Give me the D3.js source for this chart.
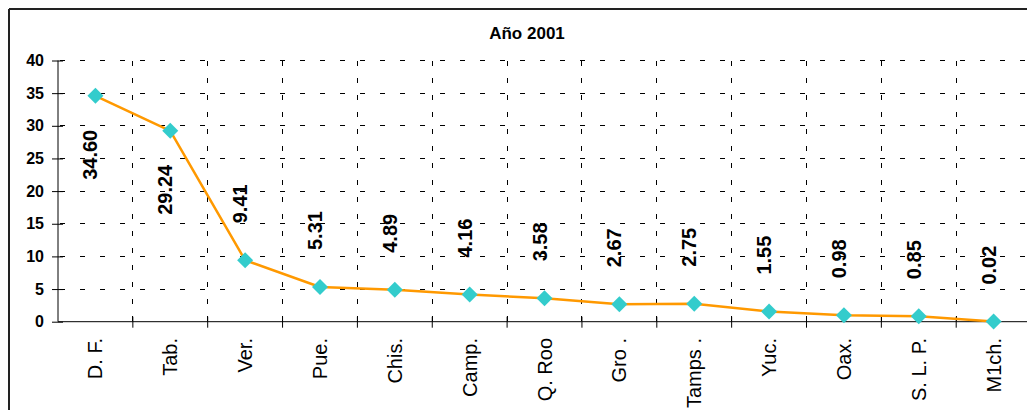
<!DOCTYPE html>
<html>
<head>
<meta charset="utf-8">
<script src="https://cdn.jsdelivr.net/npm/d3@7"></script>
<style>
  html, body { margin: 0; padding: 0; background: #fff; }
  svg { display: block; font-family: "Liberation Sans", Arial, sans-serif; }
</style>
</head>
<body>
<svg id="chart" width="1027" height="410"></svg>
<script>
// ---- data ----
const categories = ["D. F.", "Tab.", "Ver.", "Pue.", "Chis.", "Camp.", "Q. Roo", "Gro .", "Tamps .", "Yuc.", "Oax.", "S. L. P.", "M1ch."];
const values = [34.60, 29.24, 9.41, 5.31, 4.89, 4.16, 3.58, 2.67, 2.75, 1.55, 0.98, 0.85, 0.02];
const valueLabels = ["34.60", "29.24", "9.41", "5.31", "4.89", "4.16", "3.58", "2.67", "2.75", "1.55", "0.98", "0.85", "0.02"];
const yTicks = [0, 5, 10, 15, 20, 25, 30, 35, 40];
const title = "Año 2001";

// ---- layout ----
const W = 1027, H = 410;
const plot = { left: 58, top: 60.5, bottom: 321.7, bandW: 74.85 };
const svg = d3.select("#chart");

const x = d3.scaleBand().domain(categories)
  .range([plot.left, plot.left + plot.bandW * categories.length]).padding(0);
const y = d3.scaleLinear().domain([0, 40]).range([plot.bottom, plot.top]);
const cx = c => x(c) + x.bandwidth() / 2;

// frame
svg.append("line").attr("x1", 9).attr("x2", W).attr("y1", 9).attr("y2", 9)
  .attr("stroke", "#222").attr("stroke-width", 2);
svg.append("line").attr("x1", 9).attr("x2", 9).attr("y1", 9).attr("y2", H)
  .attr("stroke", "#222").attr("stroke-width", 2);

// title
svg.append("text").attr("x", 527).attr("y", 39).attr("text-anchor", "middle")
  .attr("font-size", 17).attr("font-weight", "bold").text(title);

// horizontal dashed gridlines
svg.append("g").selectAll("line").data(yTicks.filter(t => t > 0)).join("line")
  .attr("x1", plot.left).attr("x2", W)
  .attr("y1", d => y(d)).attr("y2", d => y(d))
  .attr("stroke", "#000").attr("stroke-width", 1)
  .attr("stroke-dasharray", "5,15").attr("stroke-dashoffset", -2)
  .attr("shape-rendering", "crispEdges");

// vertical dashed gridlines at category boundaries
svg.append("g").selectAll("line").data(categories.slice(1)).join("line")
  .attr("x1", d => x(d)).attr("x2", d => x(d))
  .attr("y1", plot.top).attr("y2", plot.bottom)
  .attr("stroke", "#000").attr("stroke-width", 1)
  .attr("stroke-dasharray", "5,12")
  .attr("shape-rendering", "crispEdges");

// y axis
const yAxis = d3.axisLeft(y).tickValues(yTicks).tickSize(5).tickPadding(9);
const gy = svg.append("g").attr("transform", `translate(${plot.left},0)`).call(yAxis);
gy.select(".domain").attr("stroke", "#000").attr("d", `M0,${plot.top}V${plot.bottom}`);
gy.selectAll(".tick line").attr("x1", -6).attr("x2", 5).attr("stroke", "#000");
gy.selectAll(".tick text").attr("font-size", 16).attr("font-weight", "bold")
  .attr("font-family", "Liberation Sans, Arial, sans-serif").attr("fill", "#000");

// x axis
const xAxis = d3.axisBottom(x).tickSize(0).tickFormat(() => "");
const gx = svg.append("g").attr("transform", `translate(0,${plot.bottom})`).call(xAxis);
gx.select(".domain").attr("stroke", "#000").attr("d", `M${plot.left},0H${W}`);
// boundary tick marks
svg.append("g").selectAll("line").data(categories.slice(1)).join("line")
  .attr("x1", d => x(d)).attr("x2", d => x(d))
  .attr("y1", plot.bottom - 5).attr("y2", plot.bottom + 6)
  .attr("stroke", "#000");

// x labels (rotated)
svg.append("g").selectAll("text").data(categories).join("text")
  .attr("transform", d => `translate(${cx(d)},338) rotate(-90)`)
  .attr("dy", "0.35em").attr("text-anchor", "end")
  .attr("font-size", 20).attr("fill", "#000").text(d => d);

// line
const line = d3.line().x((d, i) => cx(categories[i])).y(d => y(d));
svg.append("path").datum(values).attr("d", line)
  .attr("fill", "none").attr("stroke", "#FF9900").attr("stroke-width", 2.5)
  .attr("stroke-linejoin", "round");

// markers
svg.append("g").selectAll("path").data(values).join("path")
  .attr("transform", (d, i) => `translate(${cx(categories[i])},${y(d)})`)
  .attr("d", "M0,-8L8,0L0,8L-8,0Z")
  .attr("fill", "#33CCCC");

// data labels (rotated)
svg.append("g").selectAll("text").data(values).join("text")
  .attr("transform", (d, i) => {
    const px = cx(categories[i]) - 5;
    const py = d > 20 ? y(d) + 34 : y(d) - 37;
    return `translate(${px},${py}) rotate(-90)`;
  })
  .attr("dy", "0.35em")
  .attr("text-anchor", d => d > 20 ? "end" : "start")
  .attr("font-size", 20).attr("font-weight", "bold").attr("fill", "#000")
  .text((d, i) => valueLabels[i]);
</script>
</body>
</html>
